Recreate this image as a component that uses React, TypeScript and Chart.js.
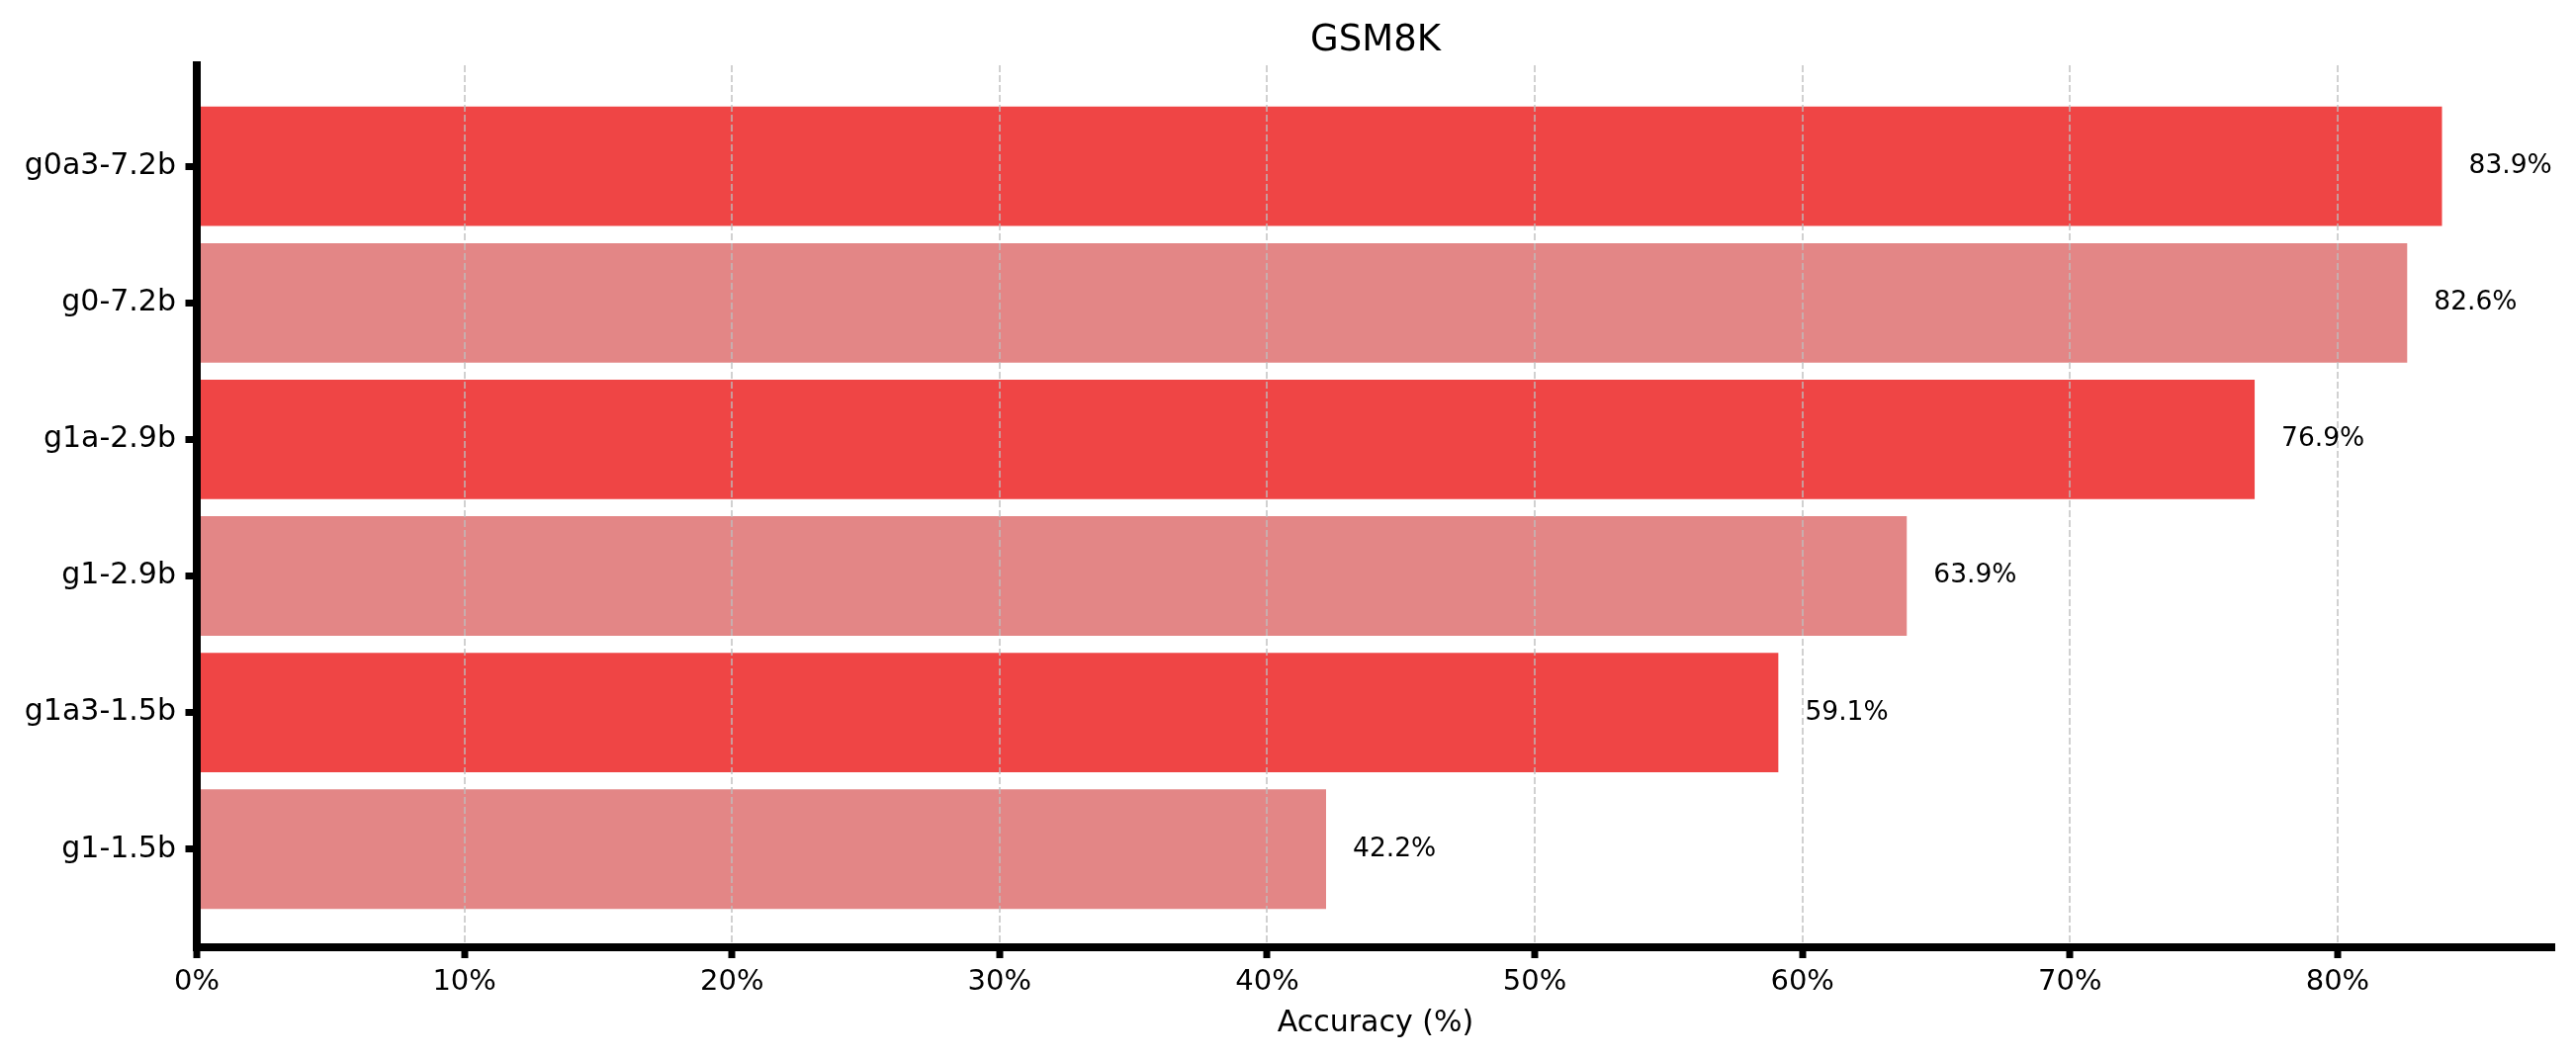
import React, { useEffect, useRef } from 'react';
import { Chart, registerables } from 'chart.js';

Chart.register(...registerables);

// ---- data ----
const categories = ['g0a3-7.2b', 'g0-7.2b', 'g1a-2.9b', 'g1-2.9b', 'g1a3-1.5b', 'g1-1.5b'];
const accuracy = [83.9, 82.6, 76.9, 63.9, 59.1, 42.2];
const xTickValues = [0, 10, 20, 30, 40, 50, 60, 70, 80];
const chartTitle = 'GSM8K';
const xAxisLabel = 'Accuracy (%)';

// ---- styles ----
const barColors = ['#EF4545', '#E38686', '#EF4545', '#E38686', '#EF4545', '#E38686'];
const FONT = '"DejaVu Sans", "Noto Sans", sans-serif';

export default function App() {
  const ref = useRef<HTMLCanvasElement>(null);

  useEffect(() => {
    if (!ref.current) return;
    const W = 2605;
    const H = 1072;
    const areaLeft = 199;
    const areaRight = 2583;
    const areaTop = 66;
    const areaBottom = 957.5;
    const xMax = Math.max(...accuracy) * 1.05;

    const overlay = {
      id: 'overlayText',
      afterDraw(chart: any) {
        const ctx = chart.ctx;
        const meta = chart.getDatasetMeta(0);
        const xs = chart.scales.x;
        ctx.save();
        ctx.fillStyle = '#000';
        ctx.font = `26.5px ${FONT}`;
        ctx.textAlign = 'left';
        ctx.textBaseline = 'middle';
        meta.data.forEach((el: any, i: number) => {
          ctx.fillText(accuracy[i].toFixed(1) + '%', xs.getPixelForValue(accuracy[i] + 1), el.y);
        });
        ctx.font = `37px ${FONT}`;
        ctx.textAlign = 'center';
        ctx.textBaseline = 'alphabetic';
        ctx.fillText(chartTitle, (chart.chartArea.left + chart.chartArea.right) / 2, 50.5);
        ctx.restore();
      },
    };

    const chart = new Chart(ref.current, {
      type: 'bar',
      data: {
        datasets: [
          {
            data: categories.map((_, i) => ({ x: accuracy[i], y: i })),
            backgroundColor: barColors,
            borderWidth: 0,
            barPercentage: 0.875,
            categoryPercentage: 1,
          } as any,
        ],
      },
      options: {
        indexAxis: 'y',
        animation: false,
        responsive: false,
        devicePixelRatio: 1,
        layout: { padding: { top: areaTop, right: W - areaRight, left: 0, bottom: 0 } },
        plugins: {
          legend: { display: false },
          title: { display: false },
          tooltip: { enabled: false },
        },
        scales: {
          x: {
            type: 'linear',
            position: 'bottom',
            offset: false,
            min: 0,
            max: xMax,
            afterFit: (s: any) => {
              s.height = H - areaBottom;
            },
            afterBuildTicks: (s: any) => {
              s.ticks = xTickValues.map((v) => ({ value: v }));
            },
            ticks: {
              callback: (v: any) => v + '%',
              font: { family: FONT, size: 29 },
              color: '#000',
              padding: 7,
              maxRotation: 0,
              autoSkip: false,
            },
            grid: {
              offset: false,
              color: 'rgba(190,190,190,0.7)',
              lineWidth: 2,
              tickColor: '#000',
              tickWidth: 7,
              tickLength: 11.5,
              tickBorderDash: [],
              z: 1,
            },
            border: { display: true, color: '#000', width: 8, dash: [7, 3], z: 2 },
            title: {
              display: true,
              text: xAxisLabel,
              font: { family: FONT, size: 30 },
              color: '#000',
              padding: { top: 0, bottom: 18.5 },
            },
          } as any,
          y: {
            type: 'linear',
            position: 'left',
            offset: false,
            reverse: true,
            min: -0.74,
            max: categories.length - 1 + 0.715,
            afterFit: (s: any) => {
              s.width = areaLeft;
            },
            afterBuildTicks: (s: any) => {
              s.ticks = categories.map((_, i) => ({ value: i }));
            },
            ticks: {
              callback: (v: any) => categories[v] ?? '',
              font: { family: FONT, size: 30 },
              color: '#000',
              padding: 9.5,
              autoSkip: false,
            },
            grid: {
              offset: false,
              drawOnChartArea: false,
              drawTicks: true,
              tickColor: '#000',
              tickWidth: 7,
              tickLength: 11.5,
              z: 1,
            },
            border: { display: true, color: '#000', width: 8, z: 2 },
          } as any,
        },
      },
      plugins: [overlay],
    });

    return () => chart.destroy();
  }, []);

  return (
    <div style={{ position: 'fixed', left: 0, top: 0, width: 2605, height: 1072, background: '#fff' }}>
      <canvas ref={ref} width={2605} height={1072} style={{ display: 'block' }} />
    </div>
  );
}
